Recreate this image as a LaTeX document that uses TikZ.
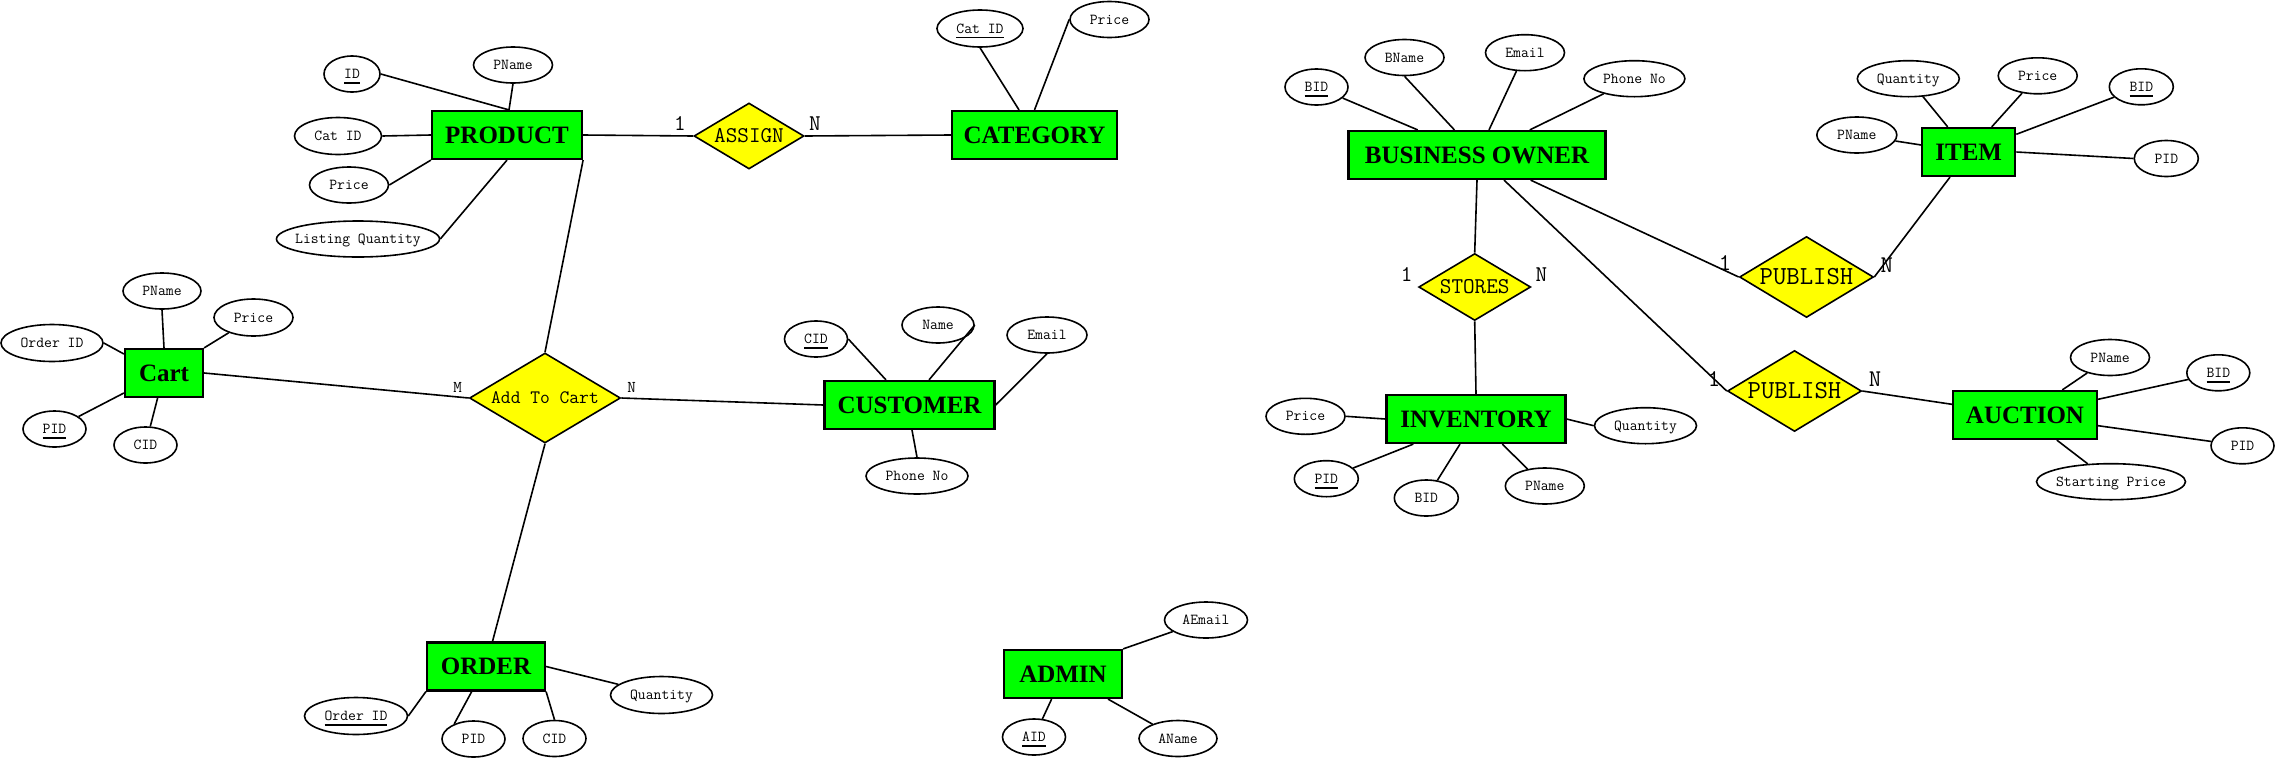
\documentclass[tikz,border=0pt]{standalone}
\usepackage{fontspec}
\setmainfont{Liberation Serif}
\usetikzlibrary{shapes.geometric}
\definecolor{entgreen}{HTML}{00FF00}
\definecolor{relyellow}{HTML}{FFFF00}
\newcommand\zb[1]{\makebox[0pt]{#1}}
\newcommand\ukey[1]{\makebox[0pt]{\setbox0=\hbox{#1}\rlap{\rule[-5.3pt]{\wd0}{1.8pt}}\box0}}
\tikzset{
  sz/.style 2 args={minimum width=#1pt, minimum height=#2pt},
  ent/.style={draw, line width=2.2pt, fill=entgreen, rectangle, inner sep=0pt,
    font=\fontsize{25}{25}\selectfont\bfseries, text height=16.5pt, text depth=0pt},
  attr/.style={draw, ellipse, line width=1.6pt, fill=white, inner sep=0pt,
    font=\ttfamily\fontsize{15.24}{18}\selectfont, text height=9.3pt, text depth=0pt},
  rel/.style={draw, diamond, line width=1.6pt, fill=relyellow, inner sep=0pt, text depth=0pt},
  relf/.style 2 args={font=\ttfamily\fontsize{#1}{#1}\selectfont, text height=#2pt},
  card/.style={inner sep=0pt, text depth=0pt},
  conn/.style={line width=1.6pt}
}
\begin{document}
\begin{tikzpicture}[x=1pt, y=-1pt]
\useasboundingbox (0,0) rectangle (2275,758);

% entities
\node[ent, sz={150}{48}] (prod) at (507,135) {PRODUCT};
\node[ent, sz={165}{48}] (cat) at (1034.5,135) {CATEGORY};
\node[ent, sz={78}{48}] (cart) at (164,373) {Cart};
\node[ent, sz={170}{48}] (cust) at (909.5,405) {CUSTOMER};
\node[ent, sz={118}{48}] (order) at (486,666.5) {ORDER};
\node[ent, sz={118}{48}] (admin) at (1063,674) {ADMIN};
\node[ent, sz={257}{48}] (bo) at (1477,155) {BUSINESS OWNER};
\node[ent, sz={93}{48}] (item) at (1968.7,152) {ITEM};
\node[ent, sz={179}{48}] (inv) at (1476,419) {INVENTORY};
\node[ent, sz={144}{48}] (auc) at (2025,415) {AUCTION};

% relationships
\node[rel, sz={110}{66}, relf={22.5}{13.7}] (assign) at (749,136) {\zb{ASSIGN}};
\node[rel, sz={151}{90}, relf={19}{11.6}] (acart) at (545,398) {\zb{Add To Cart}};
\node[rel, sz={112}{67}, relf={22.5}{13.7}] (stores) at (1474.7,287) {\zb{STORES}};
\node[rel, sz={134}{81}, relf={26}{15.9}] (pub1) at (1806.5,277) {\zb{PUBLISH}};
\node[rel, sz={134}{81}, relf={26}{15.9}] (pub2) at (1794.5,391) {\zb{PUBLISH}};

% cardinalities
\node[card, relf={22.5}{13.7}] (c1) at (680,124) {1};
\node[card, relf={22.5}{13.7}] (c2) at (815,124) {N};
\node[card, relf={16.5}{10}] (c3) at (457.6,387) {M};
\node[card, relf={16.5}{10}] (c4) at (631.7,387) {N};
\node[card, relf={22.5}{13.7}] (c5) at (1406.6,275) {1};
\node[card, relf={22.5}{13.7}] (c6) at (1541.3,275) {N};
\node[card, relf={24}{14.6}] (c7) at (1725,263) {1};
\node[card, relf={24}{14.6}] (c8) at (1886.7,265) {N};
\node[card, relf={24}{14.6}] (c9) at (1714,379) {1};
\node[card, relf={24}{14.6}] (c10) at (1875,379) {N};

% PRODUCT attributes
\node[attr, sz={56}{36}] (pa1) at (352,74) {\ukey{ID}};
\node[attr, sz={79}{36}] (pa2) at (513,65) {\zb{PName}};
\node[attr, sz={87}{37}] (pa3) at (338,136) {\zb{Cat ID}};
\node[attr, sz={79}{36}] (pa4) at (349,185) {\zb{Price}};
\node[attr, sz={163}{36}] (pa5) at (358,239) {\zb{Listing Quantity}};
% CATEGORY attributes
\node[attr, sz={86}{37}] (ca1) at (980,28.5) {\ukey{Cat ID}};
\node[attr, sz={79}{36}] (ca2) at (1109.5,19.5) {\zb{Price}};
% Cart attributes
\node[attr, sz={78}{36}] (ka1) at (162,291) {\zb{PName}};
\node[attr, sz={79}{37}] (ka2) at (253.5,317.5) {\zb{Price}};
\node[attr, sz={102}{37}] (ka3) at (52,343) {\zb{Order ID}};
\node[attr, sz={63}{36}] (ka4) at (54.5,429) {\ukey{PID}};
\node[attr, sz={63}{36}] (ka5) at (145.5,445) {\zb{CID}};
% CUSTOMER attributes
\node[attr, sz={63}{36}] (ua1) at (816,339) {\ukey{CID}};
\node[attr, sz={72}{36}] (ua2) at (938,325) {\zb{Name}};
\node[attr, sz={80}{36}] (ua3) at (1047,335) {\zb{Email}};
\node[attr, sz={102}{36}] (ua4) at (917,476) {\zb{Phone No}};
% ORDER attributes
\node[attr, sz={103}{37}] (oa1) at (356,716) {\ukey{Order ID}};
\node[attr, sz={63}{36}] (oa2) at (473.5,739) {\zb{PID}};
\node[attr, sz={63}{36}] (oa3) at (554.5,738.5) {\zb{CID}};
\node[attr, sz={102}{37}] (oa4) at (661.5,695) {\zb{Quantity}};
% ADMIN attributes
\node[attr, sz={83}{36}] (da1) at (1206,620) {\zb{AEmail}};
\node[attr, sz={63}{36}] (da2) at (1034,737) {\ukey{AID}};
\node[attr, sz={78}{36}] (da3) at (1178,738.5) {\zb{AName}};
% BUSINESS OWNER attributes
\node[attr, sz={63}{36}] (ba1) at (1316.5,87) {\ukey{BID}};
\node[attr, sz={79}{36}] (ba2) at (1404.5,57.5) {\zb{BName}};
\node[attr, sz={79}{36}] (ba3) at (1525,52.7) {\zb{Email}};
\node[attr, sz={101}{36}] (ba4) at (1634.4,78.7) {\zb{Phone No}};
% ITEM attributes
\node[attr, sz={102}{36}] (ia1) at (1908.3,78.7) {\zb{Quantity}};
\node[attr, sz={79}{36}] (ia2) at (2037.7,75.8) {\zb{Price}};
\node[attr, sz={64}{36}] (ia3) at (2141.3,86.8) {\ukey{BID}};
\node[attr, sz={80}{36}] (ia4) at (1856.8,135) {\zb{PName}};
\node[attr, sz={64}{36}] (ia5) at (2166.3,158.5) {\zb{PID}};
% INVENTORY attributes
\node[attr, sz={79}{36}] (na1) at (1305.5,416.3) {\zb{Price}};
\node[attr, sz={64}{36}] (na2) at (1326.3,478.7) {\ukey{PID}};
\node[attr, sz={64}{36}] (na3) at (1426.3,498) {\zb{BID}};
\node[attr, sz={79}{36}] (na4) at (1544.8,486) {\zb{PName}};
\node[attr, sz={102}{36}] (na5) at (1645.5,425.7) {\zb{Quantity}};
% AUCTION attributes
\node[attr, sz={79}{36}] (xa1) at (2110,357.5) {\zb{PName}};
\node[attr, sz={63}{36}] (xa2) at (2218.3,372.8) {\ukey{BID}};
\node[attr, sz={63}{36}] (xa3) at (2242.5,445.8) {\zb{PID}};
\node[attr, sz={149}{36}] (xa4) at (2111,481.7) {\zb{Starting Price}};

% relationship connectors
\draw[conn] (prod.east) -- (assign.west);
\draw[conn] (assign.east) -- (cat.west);
\draw[conn] (prod.south east) -- (acart.north);
\draw[conn] (cart.east) -- (acart.west);
\draw[conn] (acart.east) -- (cust.west);
\draw[conn] (acart.south) -- ([xshift=6.5pt]order.north);
\draw[conn] (bo.south) -- (stores.north);
\draw[conn] (stores.south) -- (inv.north);
\draw[conn] ([xshift=53.6pt]bo.south) -- (pub1.west);
\draw[conn] ([xshift=27pt]bo.south) -- (pub2.west);
\draw[conn] (pub1.east) -- ([xshift=-18.7pt]item.south);
\draw[conn] (pub2.east) -- ([yshift=10.7pt]auc.west);

% attribute connectors
\draw[conn] (pa1.east) -- ([xshift=2pt]prod.north);
\draw[conn] (pa2.south) -- ([xshift=2pt]prod.north);
\draw[conn] (pa3.east) -- (prod.west);
\draw[conn] (pa4.east) -- (prod.south west);
\draw[conn] (pa5.east) -- (prod.south);

\draw[conn] (ca1.south) -- ([xshift=-15.5pt]cat.north);
\draw[conn] (ca2.west) -- (cat.north);

\draw[conn] (ka1.south) -- (cart.north);
\draw[conn] (ka2) -- (cart.north east);
\draw[conn] (ka3.east) -- ([yshift=19pt]cart.west);
\draw[conn] (ka4) -- ([yshift=-20pt]cart.west);
\draw[conn] (ka5) -- ([xshift=-6.4pt]cart.south);

\draw[conn] (ua1.east) -- ([xshift=-23.5pt]cust.north);
\draw[conn] (ua2.east) -- ([xshift=19.5pt]cust.north);
\draw[conn] (ua3.south) -- (cust.east);
\draw[conn] (ua4.north) -- ([xshift=2.5pt]cust.south);

\draw[conn] (oa1.east) -- (order.south west);
\draw[conn] (oa2.142) -- ([xshift=-14.3pt]order.south);
\draw[conn] (oa3.north) -- (order.south east);
\draw[conn] (oa4) -- (order.east);

\draw[conn] (da1) -- (admin.north east);
\draw[conn] (da2) -- ([xshift=-11.4pt]admin.south);
\draw[conn] (da3) -- ([xshift=45pt]admin.south);

\draw[conn] (ba1) -- ([xshift=-59.3pt]bo.north);
\draw[conn] (ba2.south) -- ([xshift=-22.6pt]bo.north);
\draw[conn] (ba3) -- ([xshift=12pt]bo.north);
\draw[conn] (ba4) -- ([xshift=52.8pt]bo.north);

\draw[conn] (ia1) -- ([xshift=-21pt]item.north);
\draw[conn] (ia2) -- ([xshift=23pt]item.north);
\draw[conn] (ia3) -- ([yshift=17.7pt]item.east);
\draw[conn] (ia4) -- ([yshift=7pt]item.west);
\draw[conn] (item.east) -- (ia5.west);

\draw[conn] (na1.east) -- (inv.west);
\draw[conn] (na2) -- ([xshift=-62.7pt]inv.south);
\draw[conn] (na3) -- ([xshift=-16pt]inv.south);
\draw[conn] (na4) -- ([xshift=26.3pt]inv.south);
\draw[conn] (inv.east) -- (na5.west);

\draw[conn] (xa1) -- ([xshift=37.3pt]auc.north);
\draw[conn] (xa2) -- ([yshift=15.7pt]auc.east);
\draw[conn] (xa3) -- ([yshift=-10.7pt]auc.east);
\draw[conn] (xa4) -- ([xshift=31.8pt]auc.south);
\end{tikzpicture}
\end{document}
